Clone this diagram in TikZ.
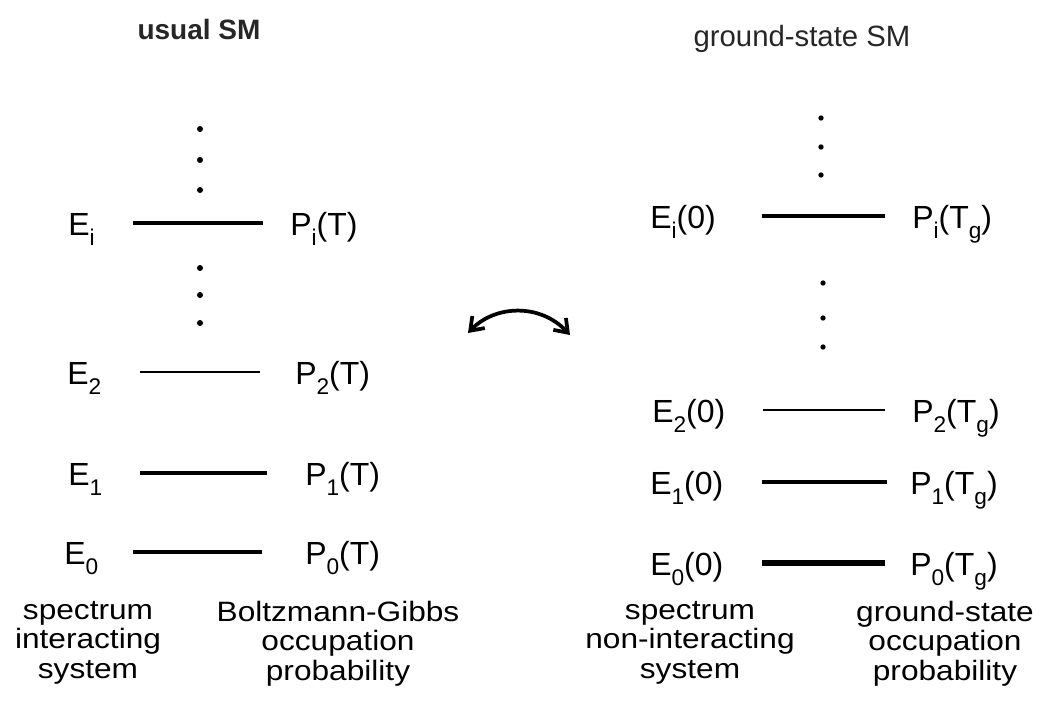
\documentclass[tikz,border=0pt]{standalone}
\usepackage{fontspec}
\setmainfont{Liberation Sans}
\newfontfamily\widefont[FakeStretch=1.13]{Liberation Sans}
\usetikzlibrary{arrows.meta}
\newcommand{\lowsub}[1]{\raisebox{-0.32em}{\fontsize{17}{17}\selectfont #1}}
\tikzset{
  lvl/.style={draw=black, line cap=butt},
  lab/.style={inner sep=0pt, anchor=base west, font=\fontsize{24}{24}\selectfont},
  bottomlab/.style={inner sep=0pt, anchor=north, align=center, font=\widefont\fontsize{21}{22}\selectfont},
  dotmark/.style={fill=black, circle, inner sep=0pt, minimum size=4.5pt},
  rdotmark/.style={fill=black, circle, inner sep=0pt, minimum size=4pt},
}
\begin{document}
\begin{tikzpicture}[x=0.75pt, y=-0.75pt]
\useasboundingbox (0,0) rectangle (1039,700);
% titles
\node[inner sep=0pt, font=\fontsize{21}{21}\selectfont\bfseries, text=black!85] (t1) at (199,29) {usual SM};
\node[inner sep=0pt, font=\fontsize{22}{22}\selectfont, text=black!85] (t2) at (802,39) {ground-state SM};

% left dots
\node[dotmark] (ld1) at (200,129) {};
\node[dotmark] (ld2) at (200,160) {};
\node[dotmark] (ld3) at (200,190) {};
\node[dotmark] (ld4) at (200,268) {};
\node[dotmark] (ld5) at (200,295) {};
\node[dotmark] (ld6) at (200,323) {};

% left levels
\coordinate (LiA) at (133,223); \coordinate (LiB) at (263,223);
\coordinate (L2A) at (140,372); \coordinate (L2B) at (260,372);
\coordinate (L1A) at (140,473); \coordinate (L1B) at (267,473);
\coordinate (L0A) at (133,552); \coordinate (L0B) at (262,552);
\draw[lvl, line width=2.3pt] (LiA) -- (LiB);
\draw[lvl, line width=1.8pt] (L2A) -- (L2B);
\draw[lvl, line width=2.3pt] (L1A) -- (L1B);
\draw[lvl, line width=3.2pt] (L0A) -- (L0B);

\node[lab] (lEi) at (68,235) {E\lowsub{i}};
\node[lab] (lE2) at (67,384) {E\lowsub{2}};
\node[lab] (lE1) at (68,485) {E\lowsub{1}};
\node[lab] (lE0) at (64,564) {E\lowsub{0}};
\node[lab] (lPi) at (290,235) {P\lowsub{i}(T)};
\node[lab] (lP2) at (295,384) {P\lowsub{2}(T)};
\node[lab] (lP1) at (305,485) {P\lowsub{1}(T)};
\node[lab] (lP0) at (305,564) {P\lowsub{0}(T)};

% right dots
\node[rdotmark] (rd1) at (821,118) {};
\node[rdotmark] (rd2) at (821,147) {};
\node[rdotmark] (rd3) at (821,175) {};
\node[rdotmark] (rd4) at (823,283) {};
\node[rdotmark] (rd5) at (823,318) {};
\node[rdotmark] (rd6) at (823,347) {};

% right levels
\coordinate (RiA) at (762,216); \coordinate (RiB) at (885,216);
\coordinate (R2A) at (763,410); \coordinate (R2B) at (885,410);
\coordinate (R1A) at (762,482); \coordinate (R1B) at (887,482);
\coordinate (R0A) at (762,563); \coordinate (R0B) at (885,563);
\draw[lvl, line width=3pt] (RiA) -- (RiB);
\draw[lvl, line width=1.5pt] (R2A) -- (R2B);
\draw[lvl, line width=2.3pt] (R1A) -- (R1B);
\draw[lvl, line width=5pt] (R0A) -- (R0B);

\node[lab] (rEi) at (650,228) {E\lowsub{i}(0)};
\node[lab] (rE2) at (652,422) {E\lowsub{2}(0)};
\node[lab] (rE1) at (650,494) {E\lowsub{1}(0)};
\node[lab] (rE0) at (650,575) {E\lowsub{0}(0)};
\node[lab] (rPi) at (912,228) {P\lowsub{i}(T\lowsub{g})};
\node[lab] (rP2) at (912,422) {P\lowsub{2}(T\lowsub{g})};
\node[lab] (rP1) at (910,494) {P\lowsub{1}(T\lowsub{g})};
\node[lab] (rP0) at (910,575) {P\lowsub{0}(T\lowsub{g})};

% double arrow
\coordinate (al) at (468,333);
\coordinate (ar) at (570,335);
\draw[line width=2.8pt, {Straight Barb[length=9pt,width=13pt]}-{Straight Barb[length=9pt,width=13pt]}] (al) .. controls (495,305) and (540,303) .. (ar);

% bottom labels
\node[bottomlab] (b1) at (88,601) {spectrum\\interacting\\system};
\node[bottomlab] (b2) at (338,601) {Boltzmann-Gibbs\\occupation\\probability};
\node[bottomlab] (b3) at (690,601) {spectrum\\non-interacting\\system};
\node[bottomlab] (b4) at (945,601) {ground-state\\occupation\\probability};
\end{tikzpicture}
\end{document}
